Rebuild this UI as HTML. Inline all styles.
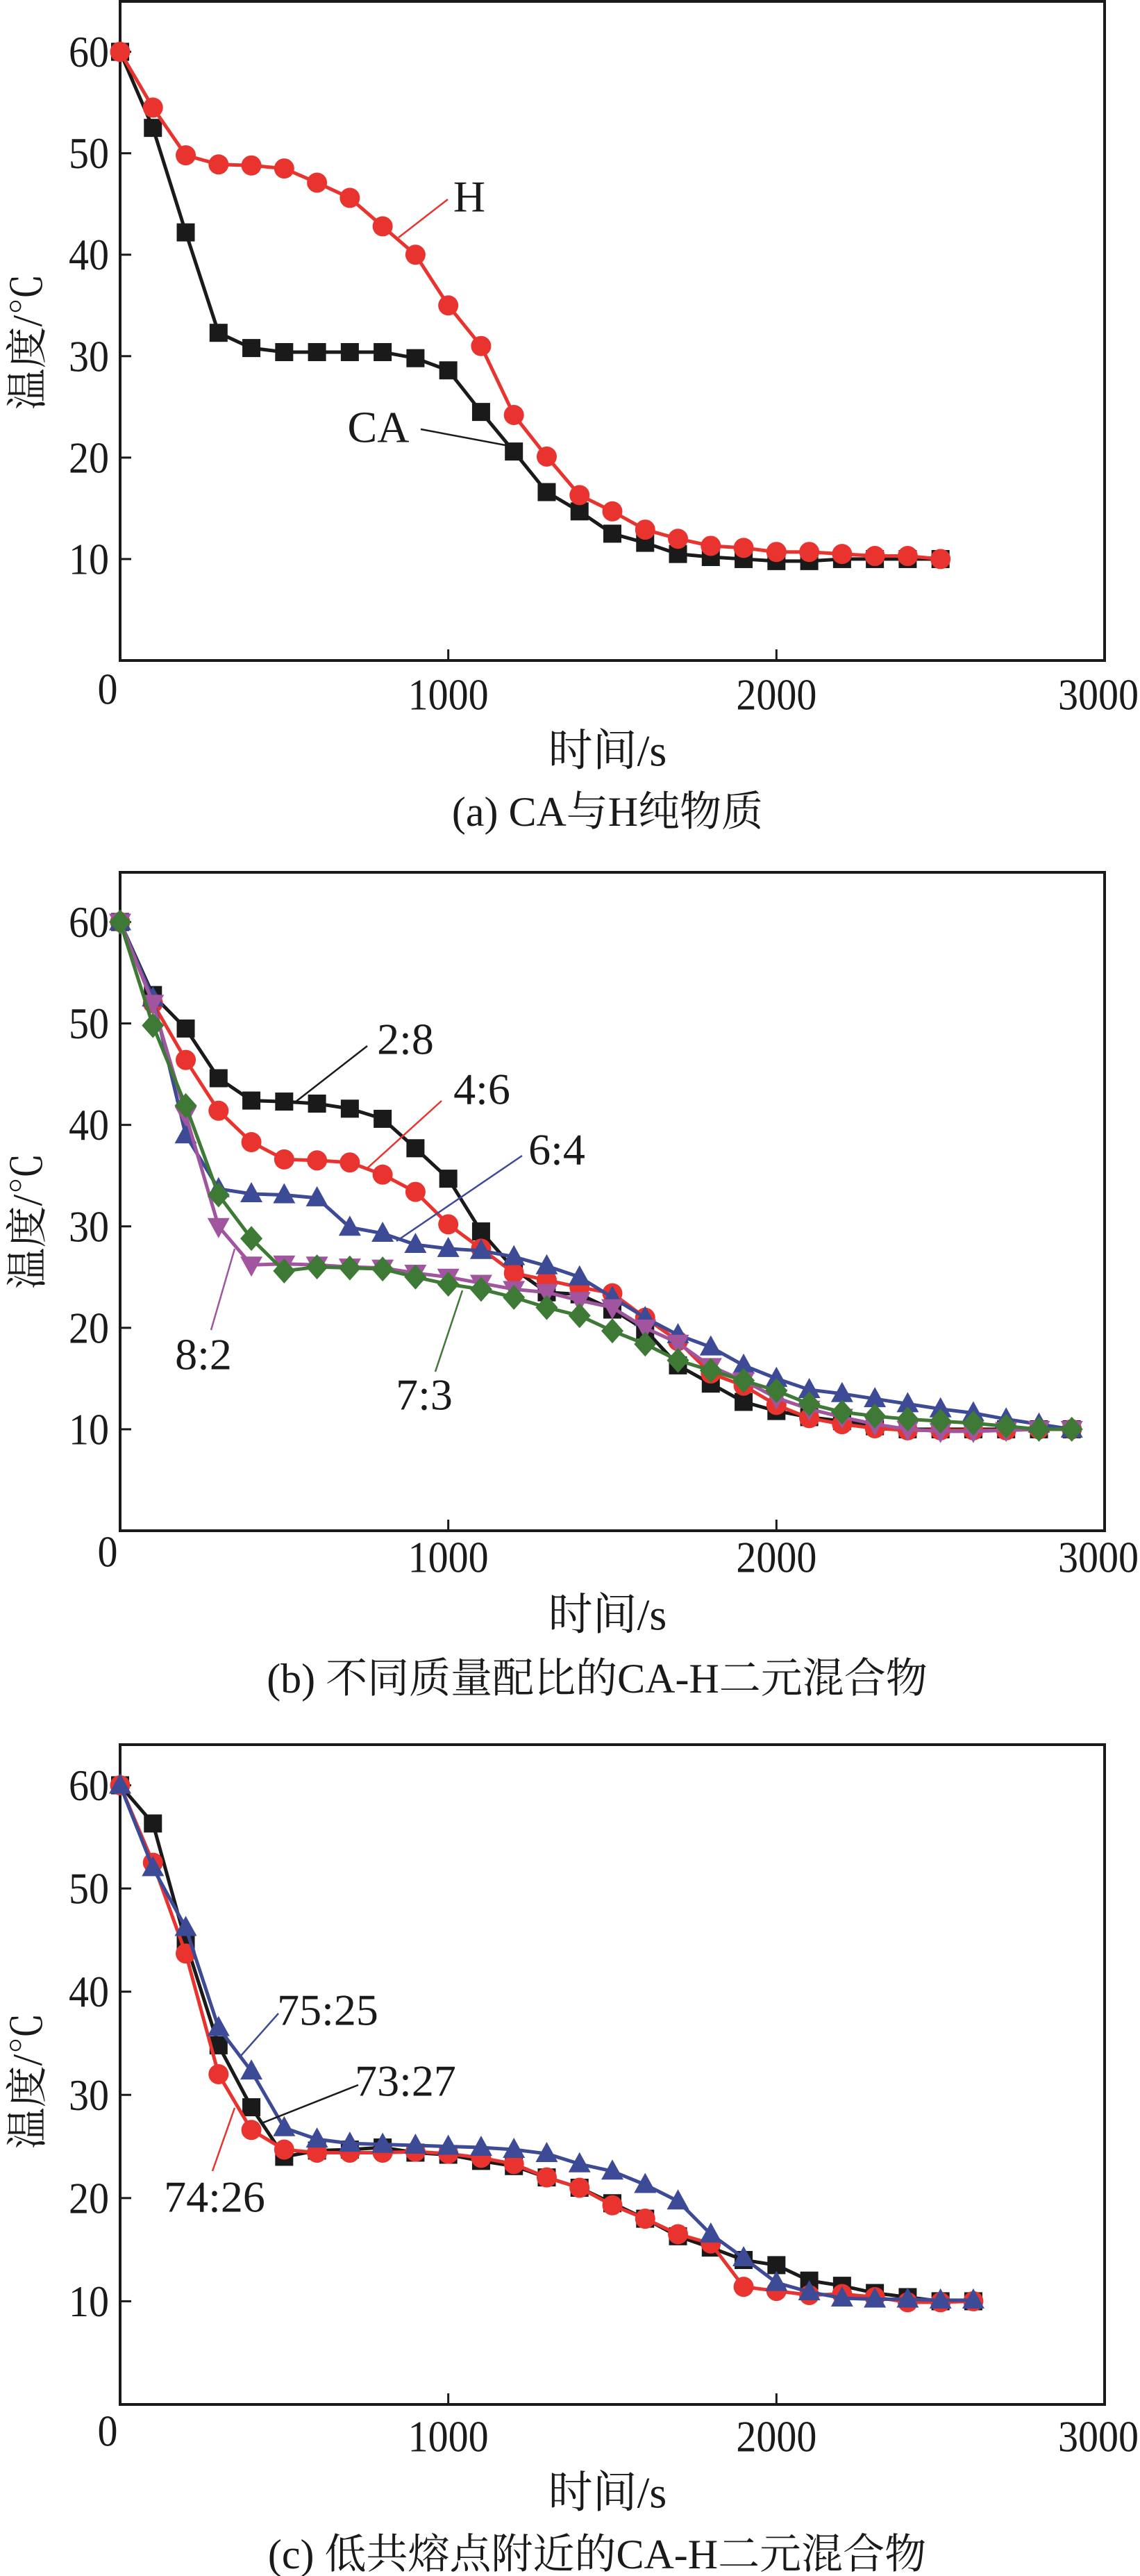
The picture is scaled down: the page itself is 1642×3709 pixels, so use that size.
<!DOCTYPE html>
<html><head><meta charset="utf-8">
<style>
html,body{margin:0;padding:0;background:#fff;}
svg{display:block;}
text{font-family:"Liberation Serif","Noto Serif CJK SC",serif;fill:#1a1a1a;}
</style></head>
<body>
<svg id="fig" width="1642" height="3709" viewBox="0 0 1642 3709" xmlns="http://www.w3.org/2000/svg"></svg>
<script>
const xTicks=[0,1000,2000,3000];
const yTicks=[10,20,30,40,50,60];
// panel a
const aTimes=[0,100,200,300,400,500,600,700,800,900,1000,1100,1200,1300,1400,1500,1600,1700,1800,1900,2000,2100,2200,2300,2400,2500];
const aCA=[60,52.5,42.2,32.3,30.8,30.4,30.4,30.4,30.4,29.8,28.6,24.5,20.6,16.6,14.7,12.5,11.6,10.5,10.2,10,9.8,9.8,10,10,10,10];
const aH=[60,54.5,49.8,48.9,48.8,48.5,47.1,45.6,42.8,40,35,31,24.2,20.1,16.3,14.7,12.9,12,11.3,11.1,10.7,10.7,10.5,10.3,10.3,10];
// panel b
const bTimes=[0,100,200,300,400,500,600,700,800,900,1000,1100,1200,1300,1400,1500,1600,1700,1800,1900,2000,2100,2200,2300,2400,2500,2600,2700,2800,2900];
const b28=[60,52.8,49.5,44.6,42.4,42.3,42.1,41.6,40.6,37.7,34.7,29.5,25.8,23.5,23.3,21.8,19.8,16.3,14.5,12.7,11.8,11.2,10.8,10.3,10,10,10,10,10,10];
const b46=[60,52,46.4,41.4,38.3,36.6,36.5,36.3,35.1,33.4,30.2,27.8,25.4,24.7,24,23.4,21,18.7,15.5,14.3,12.4,11.1,10.5,10.1,9.9,9.9,9.9,9.9,10,10];
const b64=[60,52.5,39,33.7,33.2,33.1,32.8,29.9,29.3,28.2,27.8,27.6,27,26.1,25,23,21,19.3,18.1,16.3,15,13.9,13.5,13,12.5,12,11.6,11,10.5,10];
const b82=[60,52,41,30,26.2,26.3,26.2,26,25.9,25.4,25,24.4,23.8,23.5,22.7,22,20,18.5,16.2,14.8,13.1,12,11.2,10.5,10,9.8,9.8,9.9,10,10];
const b73=[60,49.8,41.9,33.1,28.8,25.6,26,25.9,25.8,25,24.3,23.8,23,22,21.2,19.7,18.4,16.8,15.8,14.8,13.8,12.5,11.7,11.3,11,10.8,10.6,10.3,10,10];
// panel c
const cTimes=[0,100,200,300,400,500,600,700,800,900,1000,1100,1200,1300,1400,1500,1600,1700,1800,1900,2000,2100,2200,2300,2400,2500,2600];
const c7327=[60,56.3,44.8,34.8,28.8,24,24.6,24.7,24.9,24.4,24.2,23.6,23.1,22,21,19.5,18,16.3,15.2,14,13.5,12,11.5,10.8,10.4,10,10];
const c7426=[60,52.5,43.7,32,26.6,24.7,24.4,24.4,24.4,24.5,24.3,23.9,23.3,22,21,19.3,18,16.5,15.6,11.4,11,10.6,10.7,10.4,9.9,9.9,10];
const c7525=[60,52,46.2,36.5,32.3,26.8,25.7,25.3,25.2,25.1,25,24.9,24.7,24.3,23.3,22.6,21.3,19.7,16.5,14.2,11.8,10.9,10.3,10.2,10.2,10.1,10.1];

const NS="http://www.w3.org/2000/svg";
const svg=document.getElementById('fig');
function mk(tag,attrs,parent){const e=document.createElementNS(NS,tag);for(const k in attrs)e.setAttribute(k,attrs[k]);(parent||svg).appendChild(e);return e;}

const C={black:'#1a1a1a',red:'#e8332e',blue:'#3d4a96',purple:'#a1559f',green:'#3e7a36'};

function panel(p){
  const g=mk('g',{});
  
  
  const L=173,R=1591,T=p.top,B=p.bottom;
  const X=v=>L+(R-L)*v/3000;
  const Y=v=>B-(B-p.y60)*v/60;
  const frame=mk('rect',{x:L,y:T,width:R-L,height:B-T,fill:'none',stroke:'#1a1a1a','stroke-width':4},g);
  
  
  xTicks.forEach(v=>{
    if(v>0&&v<3000){const t=mk('line',{x1:X(v),x2:X(v),y1:B,y2:B-16,stroke:'#1a1a1a','stroke-width':3},g);
    
    }
    const s=String(v);
    const tx=mk('text',{x:v==3000?1640:X(v)+(v==0?-18:0),y:p.xlabY+(v==0?-8:0),'font-size':64,'text-anchor':v==3000?'end':'middle','dominant-baseline':'central',textLength:s.length*29,lengthAdjust:'spacingAndGlyphs'},g);
    tx.textContent=s;
    
    
  });
  yTicks.forEach(v=>{
    const t=mk('line',{x1:L,x2:L+16,y1:Y(v),y2:Y(v),stroke:'#1a1a1a','stroke-width':3},g);
    
    
    const s=String(v);
    const tx=mk('text',{x:157,y:Y(v),'font-size':64,'text-anchor':'end','dominant-baseline':'central',textLength:s.length*29,lengthAdjust:'spacingAndGlyphs'},g);
    tx.textContent=s;
    
    
  });
  const xt=mk('text',{x:875,y:p.xtitleY,'font-size':64,'text-anchor':'middle','dominant-baseline':'central'},g);
  xt.textContent='时间/s';
  
  
  const yt=mk('text',{x:0,y:0,'font-size':60,'text-anchor':'middle','dominant-baseline':'central',transform:`translate(40,${p.ytitleY}) rotate(-90)`},g);
  yt.textContent='温度/℃';
  
  
  const cap=mk('text',{x:p.capX,y:p.capY,'font-size':60,'text-anchor':'middle','dominant-baseline':'central'},g);
  cap.textContent=p.caption;
  
  
  p.series.forEach(s=>{
    const sg=mk('g',{},g);
    
    
    const pts=s.vals.map((v,i)=>X(p.times[i])+','+Y(v)).join(' ');
    const pl=mk('polyline',{points:pts,fill:'none',stroke:s.color,'stroke-width':5,'stroke-linejoin':'round'},sg);
    
    
    s.vals.forEach((v,i)=>{
      const cx=X(p.times[i]),cy=Y(v);let m;
      if(s.marker=='sq')m=mk('rect',{x:cx-13,y:cy-13,width:26,height:26,fill:s.color},sg);
      else if(s.marker=='ci')m=mk('circle',{cx:cx,cy:cy,r:14.5,fill:s.color},sg);
      else if(s.marker=='tu')m=mk('polygon',{points:`${cx},${cy-17} ${cx-16},${cy+12} ${cx+16},${cy+12}`,fill:s.color},sg);
      else if(s.marker=='td')m=mk('polygon',{points:`${cx},${cy+17} ${cx-16},${cy-12} ${cx+16},${cy-12}`,fill:s.color},sg);
      else m=mk('polygon',{points:`${cx},${cy-18} ${cx+16},${cy} ${cx},${cy+18} ${cx-16},${cy}`,fill:s.color},sg);
      
      
    });
  });
  p.notes.forEach(n=>{
    const ln=mk('line',{x1:n.l[0],y1:n.l[1],x2:n.l[2],y2:n.l[3],stroke:n.color,'stroke-width':2.5},g);
    
    
    const t=mk('text',{x:n.x,y:n.y,'font-size':64,'text-anchor':'middle','dominant-baseline':'central'},g);
    t.textContent=n.t;
    
    
  });
}

panel({name:'panel-a',top:2,bottom:951,y60:74.6,xlabY:1000,xtitleY:1081,ytitleY:492,capX:875,capY:1169,
  caption:'(a)  CA与H纯物质',times:aTimes,
  series:[{id:'ca',vals:aCA,color:C.black,marker:'sq'},{id:'h',vals:aH,color:C.red,marker:'ci'}],
  notes:[{t:'H',x:676,y:283,l:[645,287,574,342],color:C.red},{t:'CA',x:545,y:615,l:[606,618,728,641],color:C.black}]});

panel({name:'panel-b',top:1256,bottom:2204,y60:1327.5,xlabY:2242,xtitleY:2325,ytitleY:1758,capX:860,capY:2417,
  caption:'(b)  不同质量配比的CA-H二元混合物',times:bTimes,
  series:[{id:'2-8',vals:b28,color:C.black,marker:'sq'},{id:'4-6',vals:b46,color:C.red,marker:'ci'},
    {id:'6-4',vals:b64,color:C.blue,marker:'tu'},{id:'8-2',vals:b82,color:C.purple,marker:'td'},{id:'7-3',vals:b73,color:C.green,marker:'di'}],
  notes:[{t:'2:8',x:584,y:1496,l:[529,1506,425,1587],color:C.black},{t:'4:6',x:694,y:1568,l:[636,1585,529,1682],color:C.red},
    {t:'6:4',x:802,y:1655,l:[752,1664,571,1787],color:C.blue},{t:'8:2',x:293,y:1950,l:[304,1915,338,1798],color:C.purple},
    {t:'7:3',x:611,y:2008,l:[627,1975,666,1858],color:C.green}]});

panel({name:'panel-c',top:2512,bottom:3462,y60:2570.5,xlabY:3508,xtitleY:3589,ytitleY:2996,capX:860,capY:3678,
  caption:'(c)  低共熔点附近的CA-H二元混合物',times:cTimes,
  series:[{id:'73-27',vals:c7327,color:C.black,marker:'sq'},{id:'74-26',vals:c7426,color:C.red,marker:'ci'},{id:'75-25',vals:c7525,color:C.blue,marker:'tu'}],
  notes:[{t:'75:25',x:472,y:2894,l:[401,2899,346,2961],color:C.blue},{t:'73:27',x:584,y:2996,l:[516,3002,377,3057],color:C.black},
    {t:'74:26',x:309,y:3163,l:[306,3126,338,3035],color:C.red}]});
</script>
</body></html>
